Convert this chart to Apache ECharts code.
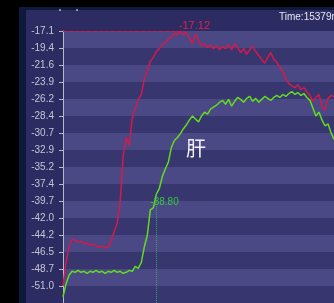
<!DOCTYPE html>
<html>
<head>
<meta charset="utf-8">
<script src="https://cdn.jsdelivr.net/npm/echarts@6/dist/echarts.min.js"></script>
<style>
html, body { margin: 0; padding: 0; background: #000; }
#main { width: 334px; height: 303px; }
</style>
</head>
<body>
<div id="main"></div>
<script>
// y axis tick labels, top to bottom
const tickLabels = ['-17.1', '-19.4', '-21.6', '-23.9', '-26.2', '-28.4', '-30.7', '-32.9',
    '-35.2', '-37.4', '-39.7', '-42.0', '-44.2', '-46.5', '-48.7', '-51.0']
const yTop = -17.1
const yStep = 2.26
const yBottom = yTop - 16 * yStep  // one more step below the last label, off screen

// red curve
const redValues = [
    -51.00, -47.88, -45.81, -44.77, -44.90, -45.16, -45.03, -45.42, -45.29, -45.55,
    -45.42, -45.68, -45.81, -45.68, -45.94, -45.81, -45.03, -43.73, -42.69, -39.70,
    -33.60, -31.26, -32.30, -28.66, -27.36, -26.19, -25.54, -23.46, -22.43, -21.13,
    -20.61, -19.83, -19.44, -18.92, -18.66, -18.14, -17.88, -17.36, -17.62, -17.12,
    -17.62, -17.23, -18.01, -18.79, -17.49, -18.27, -19.05, -18.79, -19.31, -18.92,
    -19.44, -19.05, -19.57, -19.18, -19.44, -18.92, -19.57, -18.79, -19.31, -19.96,
    -19.44, -20.22, -19.57, -19.18, -19.83, -20.35, -20.87, -21.39, -20.61, -19.96,
    -20.87, -21.26, -21.91, -22.43, -23.46, -24.11, -24.37, -24.63, -24.24, -24.89,
    -24.63, -25.15, -25.67, -26.45, -25.93, -25.54, -27.10, -27.62, -26.06, -25.67,
    -25.80
]
// green curve
const greenValues = [
    -52.43, -50.74, -49.57, -49.05, -49.18, -48.92, -49.18, -49.05, -49.31, -49.05,
    -49.18, -48.92, -49.18, -49.05, -49.31, -49.05, -49.18, -48.92, -49.18, -49.05,
    -49.31, -49.18, -48.92, -49.05, -48.40, -48.66, -47.88, -45.81, -44.25, -40.87,
    -40.61, -38.80, -38.01, -36.45, -35.41, -34.51, -32.56, -31.65, -31.26, -30.74,
    -30.09, -29.57, -28.92, -28.40, -28.79, -29.18, -28.40, -27.88, -28.14, -27.49,
    -27.23, -26.97, -26.58, -26.32, -26.84, -26.19, -27.10, -26.45, -25.93, -26.19,
    -26.58, -26.06, -25.80, -26.45, -26.06, -26.58, -26.19, -25.80, -26.06, -26.32,
    -25.93, -25.67, -25.93, -25.54, -25.80, -25.41, -25.15, -25.54, -25.28, -25.67,
    -25.41, -25.93, -26.32, -27.36, -28.40, -27.88, -28.92, -29.70, -29.44, -30.61,
    -31.52
]
const samples = redValues.map((v, i) => i)
const greenMarkIndex = 31

const redMax = Math.max(...redValues)
const redMaxIndex = redValues.indexOf(redMax)

const myChart = echarts.init(document.getElementById('main'))
myChart.setOption({
    backgroundColor: '#000',
    animation: false,
    graphic: [
        { type: 'rect', shape: { x: 19, y: 7, width: 330, height: 310 }, style: { fill: '#0e1a3c' }, z: -10 },
        { type: 'rect', shape: { x: 26, y: 10, width: 320, height: 300 }, style: { fill: '#2d2c62' }, z: -9 },
        { type: 'circle', shape: { cx: 60, cy: 10, r: 1 }, style: { fill: '#b0b0c8' } },
        { type: 'circle', shape: { cx: 77, cy: 10, r: 1 }, style: { fill: '#b0b0c8' } },
        {
            type: 'text', left: 279, top: 12,
            style: { text: 'Time:15379ms', fill: '#e6e6ee', fontSize: 10, fontFamily: 'Liberation Sans' }
        },
        {
            type: 'text', left: 186, top: 138, z: 10,
            style: { text: '肝', fill: '#f2f2f6', fontSize: 20, fontFamily: 'Noto Sans CJK SC' }
        }
    ],
    grid: {
        left: 63,
        right: 0,
        top: 31,
        bottom: -6.4
    },
    xAxis: {
        type: 'category',
        data: samples,
        boundaryGap: false,
        show: false
    },
    yAxis: [
        {
            // label axis, one unit per tick step
            type: 'value',
            min: -1,
            max: 15,
            interval: 1,
            axisLine: { show: true, lineStyle: { color: '#b8b8c8' } },
            axisTick: { show: true, length: 4, lineStyle: { color: '#b8b8c8' } },
            axisLabel: {
                color: '#c4c4d4',
                fontSize: 10,
                fontFamily: 'Liberation Sans',
                margin: 9,
                formatter: v => (v >= 0 ? tickLabels[15 - v] : '')
            },
            splitLine: { show: false },
            splitArea: { show: true, areaStyle: { color: ['#37366e', '#4a4986'] } }
        },
        {
            type: 'value',
            min: yBottom,
            max: yTop,
            show: false
        }
    ],
    series: [
        {
            type: 'line',
            yAxisIndex: 1,
            data: redValues,
            symbol: 'none',
            lineStyle: { color: '#d41a4c', width: 1.5 },
            markLine: {
                silent: true,
                symbol: 'none',
                label: { show: false },
                lineStyle: { color: '#d41a4c', type: 'dashed', width: 1 },
                data: [[{ coord: [0, redMax] }, { coord: [redMaxIndex, redMax] }]]
            },
            markPoint: {
                symbolSize: 0,
                label: {
                    show: true,
                    position: 'top',
                    distance: 0,
                    offset: [14, 0],
                    color: '#e0204e',
                    fontSize: 11,
                    fontFamily: 'Liberation Sans',
                    formatter: p => p.value.toFixed(2)
                },
                data: [{ coord: [redMaxIndex, redMax], value: redMax }]
            }
        },
        {
            type: 'line',
            yAxisIndex: 1,
            data: greenValues,
            symbol: 'none',
            lineStyle: { color: '#62dc1e', width: 1.5 },
            markLine: {
                silent: true,
                symbol: 'none',
                label: { show: false },
                lineStyle: { color: '#3aa86a', type: 'dotted', width: 1 },
                data: [[{ coord: [greenMarkIndex, greenValues[greenMarkIndex]] }, { coord: [greenMarkIndex, yBottom] }]]
            },
            markPoint: {
                symbolSize: 0,
                label: {
                    show: true,
                    position: 'right',
                    distance: 0,
                    offset: [-6, 8],
                    color: '#36c83a',
                    fontSize: 10,
                    fontFamily: 'Liberation Sans',
                    formatter: p => p.value.toFixed(2)
                },
                data: [{ coord: [greenMarkIndex, greenValues[greenMarkIndex]], value: greenValues[greenMarkIndex] }]
            }
        }
    ]
})
</script>
</body>
</html>
